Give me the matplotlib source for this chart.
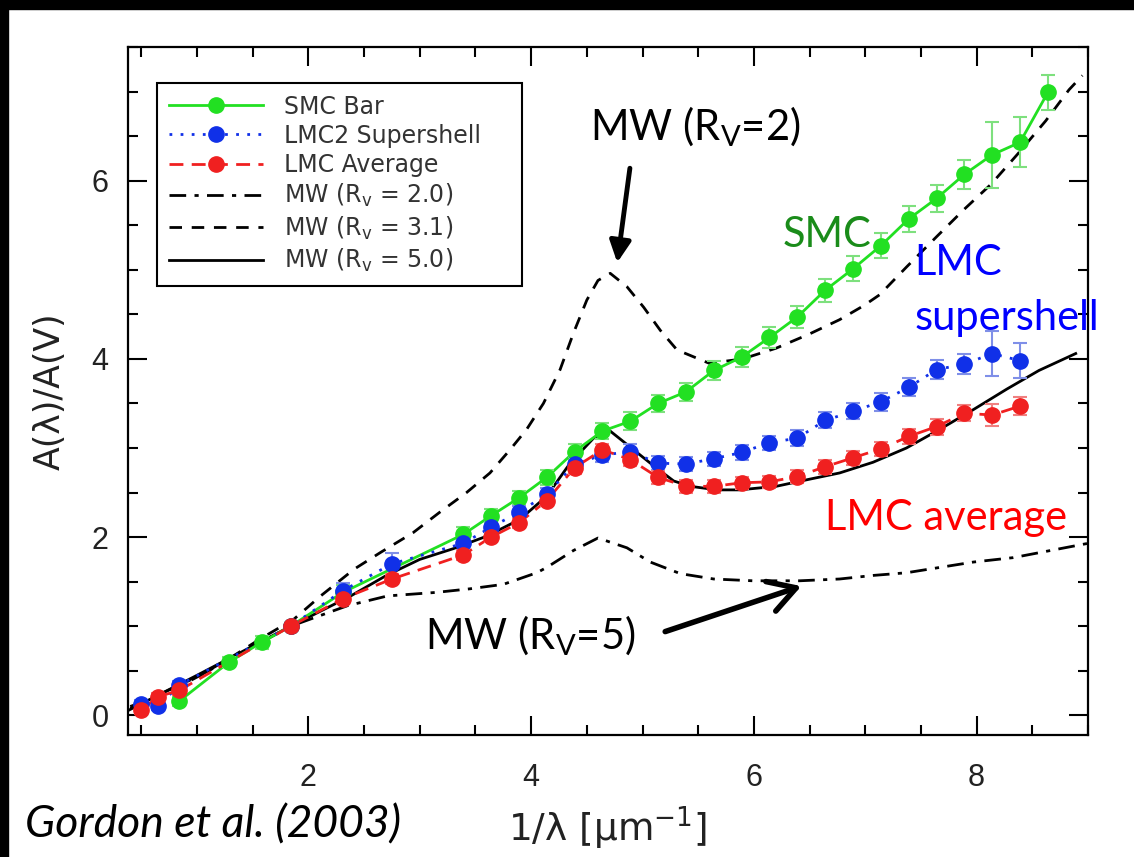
import matplotlib
matplotlib.use('Agg')
import matplotlib.pyplot as plt
from matplotlib.lines import Line2D
from matplotlib.patches import Rectangle
from matplotlib.ticker import MultipleLocator

plt.rcParams['font.family'] = ['DejaVu Sans']

# --- data ---------------------------------------------------------------
uv_x = [3.39, 3.64, 3.89, 4.14, 4.39, 4.64, 4.89, 5.14, 5.39, 5.64, 5.89,
        6.14, 6.39, 6.64, 6.89, 7.14, 7.39, 7.64, 7.89, 8.14, 8.39, 8.64]

smc_x = [0.84, 1.29, 1.58, 1.84, 2.31] + uv_x
smc_y = [0.16, 0.60, 0.82, 1.00, 1.38,
         2.03, 2.24, 2.44, 2.67, 2.96, 3.19, 3.30, 3.50, 3.63, 3.87, 4.02,
         4.24, 4.47, 4.77, 5.01, 5.27, 5.57, 5.80, 6.07, 6.29, 6.43, 6.99]
smc_err = [0.05, 0.06, 0.07, 0.03, 0.08,
           0.08, 0.08, 0.08, 0.08, 0.09, 0.09, 0.10, 0.10, 0.10, 0.11, 0.11,
           0.12, 0.12, 0.13, 0.14, 0.14, 0.15, 0.15, 0.16, 0.37, 0.28, 0.20]

lmc2_x = [0.50, 0.65, 0.84, 1.84, 2.31, 2.75] + uv_x[:-1]
lmc2_y = [0.13, 0.10, 0.34, 1.00, 1.40, 1.70,
          1.93, 2.11, 2.28, 2.48, 2.82, 2.92, 2.96, 2.83, 2.82, 2.88, 2.95,
          3.06, 3.11, 3.31, 3.41, 3.52, 3.68, 3.88, 3.94, 4.06, 3.98]
lmc2_err = [0.04, 0.04, 0.05, 0.03, 0.08, 0.12,
            0.07, 0.07, 0.07, 0.07, 0.08, 0.08, 0.08, 0.08, 0.08, 0.08, 0.08,
            0.08, 0.09, 0.09, 0.09, 0.10, 0.10, 0.11, 0.11, 0.25, 0.20]

lmc_x = [0.50, 0.65, 0.84, 1.84, 2.31, 2.75] + uv_x[:-1]
lmc_y = [0.06, 0.21, 0.28, 1.00, 1.31, 1.53,
         1.80, 2.00, 2.16, 2.41, 2.78, 2.98, 2.87, 2.67, 2.57, 2.57, 2.61,
         2.62, 2.68, 2.79, 2.89, 2.99, 3.13, 3.24, 3.39, 3.37, 3.47]
lmc_err = [0.04, 0.04, 0.05, 0.03, 0.06, 0.06,
           0.06, 0.06, 0.06, 0.06, 0.07, 0.07, 0.07, 0.07, 0.07, 0.07, 0.07,
           0.07, 0.07, 0.08, 0.08, 0.08, 0.08, 0.09, 0.09, 0.12, 0.10]

# MW curves (traced)
mw20_x = [0.40, 1.03, 1.84, 2.35, 2.71, 3.15, 3.45, 3.75, 4.05, 4.14, 4.38,
          4.60, 4.86, 5.07, 5.34, 5.64, 5.99, 6.41, 6.77, 7.07, 7.37, 7.67,
          7.97, 8.33, 9.00]
mw20_y = [0.08, 0.45, 1.00, 1.23, 1.34, 1.38, 1.42, 1.47, 1.60, 1.66, 1.85,
          1.99, 1.88, 1.72, 1.59, 1.53, 1.51, 1.51, 1.53, 1.57, 1.60, 1.66,
          1.72, 1.77, 1.93]

mw31_x = [0.40, 0.70, 1.03, 1.33, 1.57, 1.87, 2.11, 2.41, 2.65, 2.94, 3.18,
          3.42, 3.63, 3.81, 3.96, 4.11, 4.26, 4.38, 4.50, 4.60, 4.71, 4.86,
          5.01, 5.16, 5.31, 5.60, 5.90, 6.20, 6.50, 6.77, 6.99, 7.13, 7.37,
          7.64, 7.89, 8.13, 8.37, 8.62, 8.83, 8.95]
mw31_y = [0.10, 0.23, 0.45, 0.67, 0.86, 1.08, 1.34, 1.64, 1.83, 2.05, 2.28,
          2.50, 2.72, 2.98, 3.21, 3.50, 3.88, 4.29, 4.66, 4.88, 4.96, 4.81,
          4.58, 4.32, 4.10, 3.95, 4.00, 4.12, 4.28, 4.44, 4.60, 4.72, 5.03,
          5.37, 5.68, 5.96, 6.30, 6.67, 7.02, 7.18]

mw50_x = [0.39, 1.00, 1.84, 2.38, 2.70, 3.00, 3.30, 3.60, 3.90, 4.14, 4.35,
          4.56, 4.71, 4.92, 5.10, 5.28, 5.43, 5.67, 5.87, 6.20, 6.50, 6.77,
          7.07, 7.37, 7.67, 7.97, 8.27, 8.56, 8.89]
mw50_y = [0.06, 0.45, 1.00, 1.34, 1.57, 1.75, 1.87, 2.01, 2.20, 2.46, 2.83,
          3.11, 3.19, 2.98, 2.80, 2.63, 2.57, 2.53, 2.53, 2.57, 2.65, 2.72,
          2.84, 3.00, 3.21, 3.43, 3.66, 3.87, 4.06]

GREEN = '#22e022'
BLUE = '#1030e8'
RED = '#f02020'
DASHDOT = (0, (6, 3, 1.5, 3))
DASHED = (0, (4.5, 3.5))

fig = plt.figure(figsize=(11.34, 8.57), dpi=100)
ax = fig.add_axes([0.1129, 0.1424, 0.8465, 0.8028])

# model curves
ax.plot(mw20_x, mw20_y, color='black', lw=2, linestyle=DASHDOT)
ax.plot(mw31_x, mw31_y, color='black', lw=2, linestyle=DASHED)
ax.plot(mw50_x, mw50_y, color='black', lw=2, linestyle='-')

# observed curves
series = [(smc_x, smc_y, smc_err, GREEN, '#7ee07e', '-'),
          (lmc2_x, lmc2_y, lmc2_err, BLUE, '#7f8fe8', (0, (1, 3))),
          (lmc_x, lmc_y, lmc_err, RED, '#f08080', (0, (5, 3)))]
for xs, ys, es, col, ecol, ls in series:
    ax.plot(xs, ys, color=col, lw=2, linestyle=ls, zorder=3)
    ax.errorbar(xs, ys, yerr=es, fmt='none', ecolor=ecol, elinewidth=1.5,
                capsize=5, capthick=1.5, zorder=3)
    ax.plot(xs, ys, 'o', color=col, markersize=11, zorder=4)

ax.set_xlim(0.38, 9.0)
ax.set_ylim(-0.22, 7.5)
ax.xaxis.set_major_locator(MultipleLocator(2))
ax.xaxis.set_minor_locator(MultipleLocator(0.5))
ax.yaxis.set_major_locator(MultipleLocator(2))
ax.yaxis.set_minor_locator(MultipleLocator(0.5))
ax.tick_params(which='both', direction='in', top=True, right=True, width=1.5)
ax.tick_params(which='major', length=14)
ax.tick_params(which='minor', length=7)
ax.tick_params(axis='x', pad=20, labelsize=22, labelcolor='#222222')
ax.tick_params(axis='y', pad=14, labelsize=22, labelcolor='#222222')
for lab in ax.get_xticklabels() + ax.get_yticklabels():
    lab.set_family(['Liberation Sans', 'DejaVu Sans'])
for s in ax.spines.values():
    s.set_linewidth(1.6)

ax.set_xlabel('1/λ [μm$^{-1}$]', fontsize=27, color='#222222', labelpad=8)
ax.set_ylabel('A(λ)/A(V)', fontsize=25, color='#222222', labelpad=18)

handles = [
    Line2D([], [], color=GREEN, lw=2, marker='o', markersize=11),
    Line2D([], [], color=BLUE, lw=2, linestyle=(0, (1, 3)), marker='o', markersize=11),
    Line2D([], [], color=RED, lw=2, linestyle=(0, (5, 3)), marker='o', markersize=11),
    Line2D([], [], color='black', lw=2, linestyle=DASHDOT),
    Line2D([], [], color='black', lw=2, linestyle=DASHED),
    Line2D([], [], color='black', lw=2),
]
labels = ['SMC Bar', 'LMC2 Supershell', 'LMC Average',
          r'MW (R$_\mathregular{v}$ = 2.0)', r'MW (R$_\mathregular{v}$ = 3.1)',
          r'MW (R$_\mathregular{v}$ = 5.0)']
leg = ax.legend(handles, labels, loc='upper left',
                bbox_to_anchor=(0.030, 0.5, 0.380, 0.448), mode='expand',
                borderaxespad=0, fontsize=17, handlelength=4.0, handletextpad=0.9,
                labelspacing=0.22, borderpad=0.5, fancybox=False, edgecolor='black',
                framealpha=1)
leg.get_frame().set_linewidth(1.5)
for t in leg.get_texts():
    t.set_color('#333333')

# annotations
afont = ['Lato', 'DejaVu Sans']
ax.text(5.47, 6.61, r'MW (R$_\mathregular{V}$=2)', fontsize=30, family=afont,
        ha='center', va='center')
ax.annotate('', xy=(4.77, 5.05), xytext=(4.89, 6.17),
            arrowprops=dict(arrowstyle='-|>', color='black', lw=3.5, mutation_scale=32))
ax.text(6.26, 5.39, 'SMC', fontsize=30, family=afont, color='#1a8c1a',
        ha='left', va='center')
ax.text(7.44, 5.08, 'LMC', fontsize=30, family=afont, color='#0000ff',
        ha='left', va='center')
ax.text(7.44, 4.46, 'supershell', fontsize=30, family=afont, color='#0000ff',
        ha='left', va='center')
ax.text(6.64, 2.21, 'LMC average', fontsize=30, family=afont, color='#ff0000',
        ha='left', va='center')
ax.text(3.05, 0.89, r'MW (R$_\mathregular{V}$=5)', fontsize=30, family=afont,
        ha='left', va='center')
ax.annotate('', xy=(6.45, 1.46), xytext=(5.18, 0.93),
            arrowprops=dict(arrowstyle='->,head_length=0.6,head_width=0.35',
                            color='black', lw=4, mutation_scale=32))
fig.text(25 / 1134, 1 - 825 / 857, 'Gordon et al. (2003)', fontsize=32,
         family=afont, style='italic', ha='left', va='center')

# black frame strips at top and left
fig.patches.append(Rectangle((0, 1 - 9 / 857), 1, 9 / 857, transform=fig.transFigure,
                             color='black', zorder=10))
fig.patches.append(Rectangle((0, 0), 8 / 1134, 1, transform=fig.transFigure,
                             color='black', zorder=10))

fig.savefig('out.png', dpi=100)
